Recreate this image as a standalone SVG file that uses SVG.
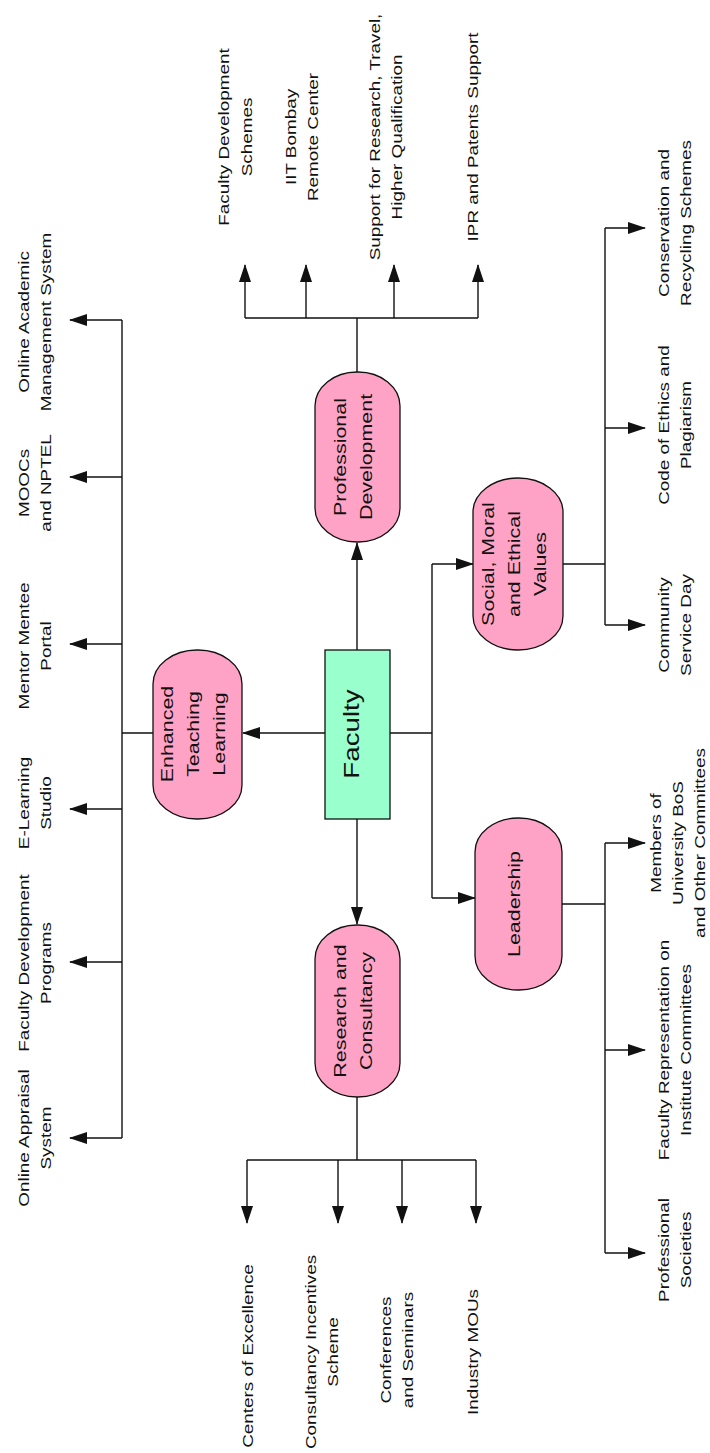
<svg xmlns="http://www.w3.org/2000/svg" width="710" height="1453" viewBox="0 0 710 1453">
<style>
.pill{fill:#ffa3c6;stroke:#111;stroke-width:1.3}
.box{fill:#99ffcc;stroke:#111;stroke-width:1.3}
.ln{fill:none;stroke:#111;stroke-width:1.4}
.ar{fill:none;stroke:#111;stroke-width:1.4;marker-end:url(#ah)}
text{font-family:"Liberation Sans",Arial,sans-serif;text-anchor:middle;fill:#111}
.lbl{font-size:15px}
.pt{font-size:17px}
.ft{font-size:22px}
</style>
<defs>
<marker id="ah" markerUnits="userSpaceOnUse" markerWidth="18" markerHeight="12" viewBox="0 0 18 12" refX="17" refY="6" orient="auto"><path d="M0,0 L18,6 L0,12 z" fill="#111"/></marker>
</defs>
<g id="connectors">
<path class="ar" d="M325,733 H243"/>
<path class="ln" d="M153,733 H122 M122,320 V1138"/>
<path class="ar" d="M122,320 H70"/>
<path class="ar" d="M122,477 H70"/>
<path class="ar" d="M122,644 H70"/>
<path class="ar" d="M122,809 H70"/>
<path class="ar" d="M122,962 H70"/>
<path class="ar" d="M122,1138 H70"/>
<path class="ar" d="M357,650 V543"/>
<path class="ln" d="M357,372 V318 M245,318 H478"/>
<path class="ar" d="M245,318 V265"/>
<path class="ar" d="M306,318 V265"/>
<path class="ar" d="M394,318 V265"/>
<path class="ar" d="M478,318 V265"/>
<path class="ar" d="M357,819 V924"/>
<path class="ln" d="M357,1097 V1160 M247,1160 H476"/>
<path class="ar" d="M247,1160 V1223"/>
<path class="ar" d="M338,1160 V1223"/>
<path class="ar" d="M402,1160 V1223"/>
<path class="ar" d="M476,1160 V1223"/>
<path class="ln" d="M390,733 H432 M432,564 V898"/>
<path class="ar" d="M432,564 H473"/>
<path class="ar" d="M432,898 H475"/>
<path class="ln" d="M563,564 H605 M605,228 V625"/>
<path class="ar" d="M605,228 H645"/>
<path class="ar" d="M605,428 H645"/>
<path class="ar" d="M605,625 H645"/>
<path class="ln" d="M562,904 H605 M605,843 V1253"/>
<path class="ar" d="M605,843 H645"/>
<path class="ar" d="M605,1050 H645"/>
<path class="ar" d="M605,1253 H645"/>
</g>
<g id="faculty">
<rect class="box" x="325" y="650" width="65" height="169"/>
<text class="ft" transform="translate(359,734) rotate(-90) scale(1.26,1)">Faculty</text>
</g>
<g id="enhanced-teaching-learning">
<rect class="pill" x="153" y="650" width="89" height="169" rx="44" ry="34"/>
<text class="pt" transform="translate(173,734) rotate(-90) scale(1.26,1)"><tspan x="0" y="0">Enhanced</tspan><tspan x="0" y="26">Teaching</tspan><tspan x="0" y="52">Learning</tspan></text>
</g>
<g id="professional-development">
<rect class="pill" x="315" y="372" width="85" height="170" rx="42" ry="34"/>
<text class="pt" transform="translate(346,457) rotate(-90) scale(1.26,1)"><tspan x="0" y="0">Professional</tspan><tspan x="0" y="26">Development</tspan></text>
</g>
<g id="research-consultancy">
<rect class="pill" x="315" y="925" width="85" height="172" rx="42" ry="34"/>
<text class="pt" transform="translate(346,1011) rotate(-90) scale(1.26,1)"><tspan x="0" y="0">Research and</tspan><tspan x="0" y="26">Consultancy</tspan></text>
</g>
<g id="social-moral-ethical">
<rect class="pill" x="473" y="478" width="90" height="172" rx="45" ry="34"/>
<text class="pt" transform="translate(494,564) rotate(-90) scale(1.26,1)"><tspan x="0" y="0">Social, Moral</tspan><tspan x="0" y="26">and Ethical</tspan><tspan x="0" y="52">Values</tspan></text>
</g>
<g id="leadership">
<rect class="pill" x="475" y="818" width="87" height="172" rx="43" ry="34"/>
<text class="pt" transform="translate(520,904) rotate(-90) scale(1.26,1)">Leadership</text>
</g>
<g id="online-academic">
<text class="lbl" transform="translate(29,322) rotate(-90) scale(1.26,1)"><tspan x="0" y="0">Online Academic</tspan><tspan x="0" y="22">Management System</tspan></text>
</g>
<g id="moocs">
<text class="lbl" transform="translate(29,483) rotate(-90) scale(1.26,1)"><tspan x="0" y="0">MOOCs</tspan><tspan x="0" y="22">and NPTEL</tspan></text>
</g>
<g id="mentor-mentee">
<text class="lbl" transform="translate(29,646) rotate(-90) scale(1.26,1)"><tspan x="0" y="0">Mentor Mentee</tspan><tspan x="0" y="22">Portal</tspan></text>
</g>
<g id="e-learning">
<text class="lbl" transform="translate(29,803) rotate(-90) scale(1.26,1)"><tspan x="0" y="0">E-Learning</tspan><tspan x="0" y="22">Studio</tspan></text>
</g>
<g id="fdp">
<text class="lbl" transform="translate(29,963) rotate(-90) scale(1.26,1)"><tspan x="0" y="0">Faculty Development</tspan><tspan x="0" y="22">Programs</tspan></text>
</g>
<g id="online-appraisal">
<text class="lbl" transform="translate(29,1138) rotate(-90) scale(1.26,1)"><tspan x="0" y="0">Online Appraisal</tspan><tspan x="0" y="22">System</tspan></text>
</g>
<g id="fd-schemes">
<text class="lbl" transform="translate(229,137) rotate(-90) scale(1.26,1)"><tspan x="0" y="0">Faculty Development</tspan><tspan x="0" y="23">Schemes</tspan></text>
</g>
<g id="iit-bombay">
<text class="lbl" transform="translate(296,137) rotate(-90) scale(1.26,1)"><tspan x="0" y="0">IIT Bombay</tspan><tspan x="0" y="22">Remote Center</tspan></text>
</g>
<g id="support-research">
<text class="lbl" transform="translate(380,137) rotate(-90) scale(1.26,1)"><tspan x="0" y="0">Support for Research, Travel,</tspan><tspan x="0" y="22">Higher Qualification</tspan></text>
</g>
<g id="ipr">
<text class="lbl" transform="translate(478,137) rotate(-90) scale(1.26,1)">IPR and Patents Support</text>
</g>
<g id="centers-excellence">
<text class="lbl" transform="translate(253,1356) rotate(-90) scale(1.26,1)">Centers of Excellence</text>
</g>
<g id="consultancy-incentives">
<text class="lbl" transform="translate(316,1352) rotate(-90) scale(1.26,1)"><tspan x="0" y="0">Consultancy Incentives</tspan><tspan x="0" y="22">Scheme</tspan></text>
</g>
<g id="conferences">
<text class="lbl" transform="translate(391,1350) rotate(-90) scale(1.26,1)"><tspan x="0" y="0">Conferences</tspan><tspan x="0" y="22">and Seminars</tspan></text>
</g>
<g id="industry-mous">
<text class="lbl" transform="translate(478,1352) rotate(-90) scale(1.26,1)">Industry MOUs</text>
</g>
<g id="conservation">
<text class="lbl" transform="translate(669,223) rotate(-90) scale(1.26,1)"><tspan x="0" y="0">Conservation and</tspan><tspan x="0" y="22">Recycling Schemes</tspan></text>
</g>
<g id="code-ethics">
<text class="lbl" transform="translate(669,425) rotate(-90) scale(1.26,1)"><tspan x="0" y="0">Code of Ethics and</tspan><tspan x="0" y="22">Plagiarism</tspan></text>
</g>
<g id="community-service">
<text class="lbl" transform="translate(669,625) rotate(-90) scale(1.26,1)"><tspan x="0" y="0">Community</tspan><tspan x="0" y="22">Service Day</tspan></text>
</g>
<g id="members-bos">
<text class="lbl" transform="translate(661,843) rotate(-90) scale(1.26,1)"><tspan x="0" y="0">Members of</tspan><tspan x="0" y="22">University BoS</tspan><tspan x="0" y="44">and Other Committees</tspan></text>
</g>
<g id="faculty-representation">
<text class="lbl" transform="translate(669,1050) rotate(-90) scale(1.26,1)"><tspan x="0" y="0">Faculty Representation on</tspan><tspan x="0" y="22">Institute Committees</tspan></text>
</g>
<g id="professional-societies">
<text class="lbl" transform="translate(669,1250) rotate(-90) scale(1.26,1)"><tspan x="0" y="0">Professional</tspan><tspan x="0" y="22">Societies</tspan></text>
</g>
</svg>
